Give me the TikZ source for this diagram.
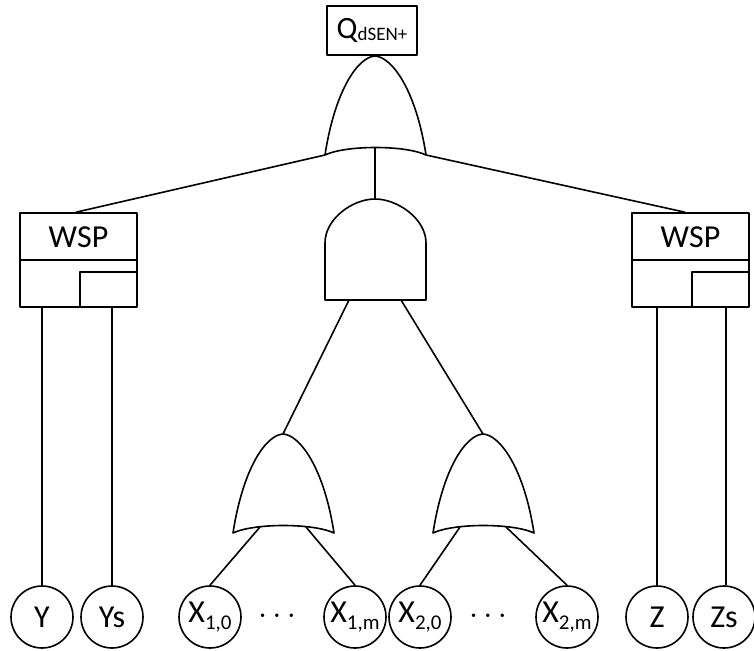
\documentclass[tikz,border=0pt]{standalone}
\usepackage{fontspec}
\setmainfont{Carlito}
\newcommand\sbs[1]{\raisebox{-0.2em}{\fontsize{21}{21}\selectfont #1}}
\tikzset{
  ln/.style={line width=1.6pt, line join=round},
  circ/.style={ln, draw, circle, minimum size=62pt, inner sep=0pt, font=\fontsize{32}{38}\selectfont},
  txt/.style={inner sep=0pt, font=\fontsize{32}{38}\selectfont},
  wspbox/.style={ln, draw, minimum width=117pt, minimum height=94pt, inner sep=0pt},
  orgate/.pic={
    \draw[ln] (0,0) .. controls (17,1) and (41,34) .. (51,99)
      .. controls (30,89) and (-29,89) .. (-50,99)
      .. controls (-40,34) and (-17,1) .. (0,0) -- cycle;
    \coordinate (-apex) at (0,0);
    \coordinate (-l) at (-50,99);
    \coordinate (-r) at (51,99);
    \coordinate (-c) at (0,91.5);
    \coordinate (-i1) at (-23,93);
    \coordinate (-i2) at (23,93);
  },
  andgate/.pic={
    \draw[ln] (-50,101) -- (-50,44) .. controls (-50,19.7) and (-22.4,0) .. (0,0)
      .. controls (22.4,0) and (51,19.7) .. (51,44) -- (51,101) -- cycle;
    \coordinate (-top) at (0,0);
    \coordinate (-b1) at (-26,101);
    \coordinate (-b2) at (26,101);
  }
}
\begin{document}
\begin{tikzpicture}[x=1pt,y=-1pt]
\useasboundingbox (0,0) rectangle (754,650);
% top box
\node[ln, draw, minimum width=90pt, minimum height=49pt, inner sep=0pt, font=\fontsize{31}{36}\selectfont] (q) at (372,30.5) {Q\raisebox{-0.05em}{\fontsize{19}{19}\selectfont dSEN+}};
% gates
\pic (tg) at (375,56) {orgate};
\pic (ag) at (375,199) {andgate};
\pic (o1) at (283,434) {orgate};
\pic (o2) at (483,434) {orgate};
% WSP boxes
\node[wspbox] (wspL) at (78.5,260) {};
\node[txt] (wspLt) at (78.5,237) {WSP};
\draw[ln] (wspL.west) -- (wspL.east);
\draw[ln] ([xshift=-58pt]wspL.south east) -- ([xshift=-58pt,yshift=36pt]wspL.south east) -- ([yshift=36pt]wspL.south east);
\node[wspbox] (wspR) at (690.5,260) {};
\node[txt] (wspRt) at (690.5,237) {WSP};
\draw[ln] (wspR.west) -- (wspR.east);
\draw[ln] ([xshift=-58pt]wspR.south east) -- ([xshift=-58pt,yshift=36pt]wspR.south east) -- ([yshift=36pt]wspR.south east);
% leaves
\node[circ] (Y) at (42,617) {Y};
\node[circ] (Ys) at (112,617) {Ys};
\node[circ] (X10) at (210,617) {X\sbs{1,0}};
\node[circ] (X1m) at (355,617) {X\sbs{1,m}};
\node[circ] (X20) at (420,617) {X\sbs{2,0}};
\node[circ] (X2m) at (567,617) {X\sbs{2,m}};
\node[circ] (Z) at (657,617) {Z};
\node[circ] (Zs) at (724,617) {Zs};
\node[txt, font=\fontsize{24}{30}\selectfont] (d1) at (277,618) {·\hspace{0.35em}·\hspace{0.35em}·};
\node[txt, font=\fontsize{24}{30}\selectfont] (d2) at (488,618) {·\hspace{0.35em}·\hspace{0.35em}·};
% connectors
\draw[ln] (tg-l) -- ([xshift=-2.5pt]wspL.north);
\draw[ln] (tg-r) -- ([xshift=-5.5pt]wspR.north);
\draw[ln] (tg-c) -- (ag-top);
\draw[ln] (ag-b1) -- (o1-apex);
\draw[ln] (ag-b2) -- (o2-apex);
\draw[ln] (o1-i1) -- (X10.north);
\draw[ln] (o1-i2) -- (X1m.north);
\draw[ln] (o2-i1) -- (X20.north);
\draw[ln] (o2-i2) -- (X2m.north);
\draw[ln] (Y.north |- wspL.south) -- (Y.north);
\draw[ln] (Ys.north |- wspL.south) -- (Ys.north);
\draw[ln] ([xshift=0pt]Z.north |- wspR.south) -- (Z.north);
\draw[ln] ([xshift=2pt]Zs.north |- wspR.south) -- ([xshift=2pt]Zs.north);
\end{tikzpicture}
\end{document}
